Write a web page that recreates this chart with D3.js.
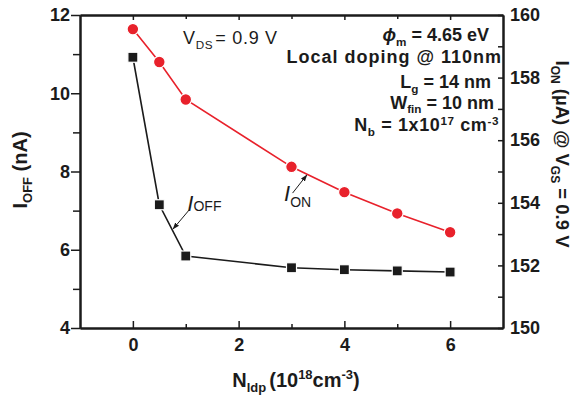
<!DOCTYPE html>
<html>
<head>
<meta charset="utf-8">
<script src="https://cdn.jsdelivr.net/npm/d3@7"></script>
<style>
  html, body { margin: 0; padding: 0; background: #fff; }
  svg { display: block; font-family: "Liberation Sans", Arial, Helvetica, sans-serif; }
</style>
</head>
<body>
<svg id="chart" width="585" height="399"></svg>
<script>
// Local drain-side doping concentration (1e18 cm^-3)
const nldp = [0, 0.5, 1, 3, 4, 5, 6];
// Off-state current (nA), left axis
const ioff = [10.92, 7.15, 5.84, 5.54, 5.49, 5.46, 5.43];
// On-state current (µA) at VGS = 0.9 V, right axis
const ion = [159.55, 158.5, 157.3, 155.15, 154.34, 153.66, 153.06];

// Tick values
const xMajor = [0, 2, 4, 6];
const xMinor = [1, 3, 5];
const yLeftMajor = [4, 6, 8, 10, 12];
const yLeftMinor = [5, 7, 9, 11];
const yRightMajor = [150, 152, 154, 156, 158, 160];
const yRightMinor = [151, 153, 155, 157, 159];

const svg = d3.select("#chart");
const plotL = 80, plotR = 503, plotT = 15, plotB = 328;

const x = d3.scaleLinear().domain([-1, 7]).range([plotL, plotR]);
const yL = d3.scaleLinear().domain([4, 12]).range([plotB, plotT]);
const yR = d3.scaleLinear().domain([150, 160]).range([plotB, plotT]);

const RED = "#e8212b";
const INK = "#1b1b1b";

// ---- axes ----
function styleAxis(g, fs) {
  g.select(".domain").attr("stroke", INK).attr("stroke-width", 2);
  g.selectAll(".tick line").attr("stroke", INK).attr("stroke-width", 1.5);
  g.selectAll(".tick text").attr("fill", INK).attr("font-size", fs).attr("font-weight", "bold")
    .attr("font-family", "'Liberation Sans', Arial, sans-serif");
}

// bottom
svg.append("g").attr("transform", `translate(0,${plotB})`)
  .call(d3.axisBottom(x).tickValues(xMajor).tickFormat(d3.format("d")).tickSizeInner(-7).tickSizeOuter(0).tickPadding(10))
  .call(g => styleAxis(g, 18));
svg.append("g").attr("transform", `translate(0,${plotB})`)
  .call(d3.axisBottom(x).tickValues(xMinor).tickFormat("").tickSizeInner(-4).tickSizeOuter(0))
  .call(g => styleAxis(g, 18));
// top
svg.append("g").attr("transform", `translate(0,${plotT})`)
  .call(d3.axisTop(x).tickValues(xMajor).tickFormat("").tickSizeInner(-5).tickSizeOuter(0))
  .call(g => styleAxis(g, 18));
svg.append("g").attr("transform", `translate(0,${plotT})`)
  .call(d3.axisTop(x).tickValues(xMinor).tickFormat("").tickSizeInner(-4).tickSizeOuter(0))
  .call(g => styleAxis(g, 18));
// left
svg.append("g").attr("transform", `translate(${plotL},0)`)
  .call(d3.axisLeft(yL).tickValues(yLeftMajor).tickFormat(d3.format("d")).tickSizeInner(9).tickSizeOuter(0).tickPadding(1))
  .call(g => styleAxis(g, 18));
svg.append("g").attr("transform", `translate(${plotL},0)`)
  .call(d3.axisLeft(yL).tickValues(yLeftMinor).tickFormat("").tickSizeInner(7).tickSizeOuter(0))
  .call(g => styleAxis(g, 18));
// right
svg.append("g").attr("transform", `translate(${plotR},0)`)
  .call(d3.axisRight(yR).tickValues(yRightMajor).tickFormat(d3.format("d")).tickSizeInner(-5).tickSizeOuter(0).tickPadding(7))
  .call(g => styleAxis(g, 18));
svg.append("g").attr("transform", `translate(${plotR},0)`)
  .call(d3.axisRight(yR).tickValues(yRightMinor).tickFormat("").tickSizeInner(-5).tickSizeOuter(0))
  .call(g => styleAxis(g, 18));

// ---- series ----
const offPts = nldp.map((d, i) => [d, ioff[i]]);
const onPts = nldp.map((d, i) => [d, ion[i]]);

svg.append("path").datum(offPts)
  .attr("fill", "none").attr("stroke", INK).attr("stroke-width", 1.6)
  .attr("d", d3.line().x(d => x(d[0])).y(d => yL(d[1])));
svg.append("path").datum(onPts)
  .attr("fill", "none").attr("stroke", RED).attr("stroke-width", 1.6)
  .attr("d", d3.line().x(d => x(d[0])).y(d => yR(d[1])));

const sq = 10;
svg.append("g").selectAll("rect").data(offPts).join("rect")
  .attr("x", d => x(d[0]) - sq / 2).attr("y", d => yL(d[1]) - sq / 2)
  .attr("width", sq).attr("height", sq)
  .attr("fill", INK).attr("stroke", "#fff").attr("stroke-width", 1.2);
svg.append("g").selectAll("circle").data(onPts).join("circle")
  .attr("cx", d => x(d[0])).attr("cy", d => yR(d[1])).attr("r", 5.8)
  .attr("fill", RED).attr("stroke", "#fff").attr("stroke-width", 1.2);

// ---- rich text helper (sub/superscripts) ----
function rich(textSel, parts, base) {
  let cur = 0;
  parts.forEach(p => {
    const shift = p.sub ? base * (p.subShift || 0.27) : p.sup ? -base * (p.supShift || 0.38) : 0;
    const ts = textSel.append("tspan").text(p.t).attr("dy", shift - cur);
    cur = shift;
    if (p.sub || p.sup || p.size) ts.attr("font-size", p.size || base * 0.65);
    if (p.italic) ts.attr("font-style", "italic");
    if (p.weight) ts.attr("font-weight", p.weight);
    if (p.dx) ts.attr("dx", p.dx);
  });
  return textSel;
}

// axis titles
const xt = svg.append("text").attr("x", 296).attr("y", 387).attr("text-anchor", "middle")
  .attr("font-size", 20).attr("font-weight", "bold").attr("fill", INK);
rich(xt, [{t: "N"}, {t: "ldp", sub: true}, {t: "(10", dx: 3}, {t: "18", sup: true}, {t: "cm"}, {t: "-3", sup: true}, {t: ")"}], 20);

const ylt = svg.append("text").attr("transform", "translate(27,170) rotate(-90)").attr("text-anchor", "middle")
  .attr("font-size", 20).attr("font-weight", "bold").attr("fill", INK);
rich(ylt, [{t: "I"}, {t: "OFF", sub: true}, {t: " (nA)"}], 20);

const yrt = svg.append("text").attr("transform", "translate(556,154) rotate(90)").attr("text-anchor", "middle")
  .attr("font-size", 18.5).attr("font-weight", "bold").attr("fill", INK);
rich(yrt, [{t: "I"}, {t: "ON", sub: true}, {t: " (\u00b5A) @ V"}, {t: "GS", sub: true}, {t: " = 0.9 V"}], 18.5);

// condition notes
const vds = svg.append("text").attr("x", 183).attr("y", 44)
  .attr("font-size", 18).attr("letter-spacing", 0.7).attr("fill", INK);
rich(vds, [{t: "V"}, {t: "DS", sub: true}, {t: "= 0.9 V", dx: 2}], 18);

const notes = [
  {y: 41, xEnd: 489, ls: 0, parts: [{t: "\u03d5", italic: true}, {t: "m", sub: true}, {t: " = 4.65 eV"}]},
  {y: 63, xEnd: 502, ls: 1, parts: [{t: "Local doping @ 110nm"}]},
  {y: 88, xEnd: 491, ls: 0, parts: [{t: "L"}, {t: "g", sub: true}, {t: " = 14 nm"}]},
  {y: 109, xEnd: 494, ls: 0, parts: [{t: "W"}, {t: "fin", sub: true, subShift: 0.24}, {t: " = 10 nm"}]},
  {y: 131, xEnd: 499, ls: 0.6, parts: [{t: "N"}, {t: "b", sub: true}, {t: " = 1x10"}, {t: "17", sup: true, supShift: 0.33}, {t: " cm"}, {t: "-3", sup: true, supShift: 0.33}]}
];
notes.forEach(n => {
  const t = svg.append("text").attr("x", n.xEnd).attr("y", n.y).attr("text-anchor", "end")
    .attr("font-size", 18).attr("font-weight", "bold").attr("letter-spacing", n.ls).attr("fill", INK);
  rich(t, n.parts, 18);
});

// series callouts with arrows (positions in data units)
svg.append("defs").append("marker").attr("id", "tip")
  .attr("viewBox", "0 0 10 10").attr("refX", 9).attr("refY", 5)
  .attr("markerWidth", 7).attr("markerHeight", 7).attr("orient", "auto")
  .append("path").attr("d", "M0,1.5 L10,5 L0,8.5 Z").attr("fill", INK);

const offArrow = {from: [1.06, 7.01], to: [0.76, 6.53]};
const onArrow = {from: [3.02, 154.31], to: [3.29, 154.89]};
svg.append("line")
  .attr("x1", x(offArrow.from[0])).attr("y1", yL(offArrow.from[1]))
  .attr("x2", x(offArrow.to[0])).attr("y2", yL(offArrow.to[1]))
  .attr("stroke", INK).attr("stroke-width", 1).attr("marker-end", "url(#tip)");
svg.append("line")
  .attr("x1", x(onArrow.from[0])).attr("y1", yR(onArrow.from[1]))
  .attr("x2", x(onArrow.to[0])).attr("y2", yR(onArrow.to[1]))
  .attr("stroke", INK).attr("stroke-width", 1).attr("marker-end", "url(#tip)");

const offLbl = svg.append("text").attr("x", x(1.03)).attr("y", yL(7.0)).attr("fill", INK).attr("font-size", 22);
rich(offLbl, [{t: "I", italic: true}, {t: "OFF", sub: true, size: 14, subShift: 0.03}], 22);
const onLbl = svg.append("text").attr("x", x(2.86)).attr("y", yR(154.05)).attr("fill", INK).attr("font-size", 22);
rich(onLbl, [{t: "I", italic: true}, {t: "ON", sub: true, size: 14, subShift: 0.24}], 22);
</script>
</body>
</html>
